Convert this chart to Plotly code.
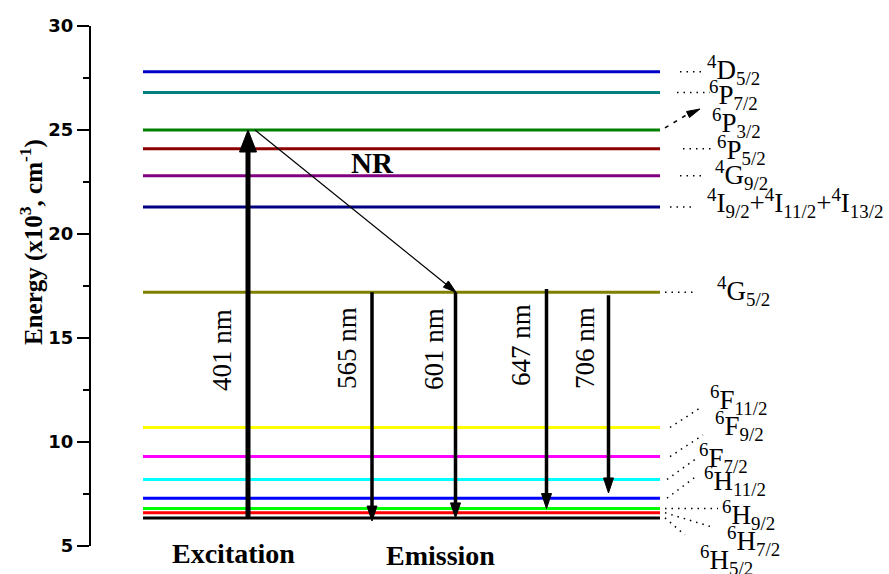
import plotly.graph_objects as go

# ---------------- data ----------------
level_labels = [
    "<sup>4</sup>D<sub>5/2</sub>",
    "<sup>6</sup>P<sub>7/2</sub>",
    "<sup>6</sup>P<sub>3/2</sub>",
    "<sup>6</sup>P<sub>5/2</sub>",
    "<sup>4</sup>G<sub>9/2</sub>",
    "<sup>4</sup>I<sub>9/2</sub>+<sup>4</sup>I<sub>11/2</sub>+<sup>4</sup>I<sub>13/2</sub>",
    "<sup>4</sup>G<sub>5/2</sub>",
    "<sup>6</sup>F<sub>11/2</sub>",
    "<sup>6</sup>F<sub>9/2</sub>",
    "<sup>6</sup>F<sub>7/2</sub>",
    "<sup>6</sup>H<sub>11/2</sub>",
    "<sup>6</sup>H<sub>9/2</sub>",
    "<sup>6</sup>H<sub>7/2</sub>",
    "<sup>6</sup>H<sub>5/2</sub>",
]
level_energy = [27.8, 26.8, 25.0, 24.1, 22.8, 21.3, 17.2, 10.7, 9.3, 8.2, 7.3, 6.8, 6.6, 6.35]

excitation_nm = 401
excitation_from = 6.35
excitation_to = 25.0

nr_from = 25.0
nr_to = 17.2

emission_nm = [565, 601, 647, 706]
emission_from = [17.2, 17.2, 17.35, 17.05]
emission_to = [6.2, 6.35, 6.8, 7.55]

y_ticks = [5, 10, 15, 20, 25, 30]
y_tick_text = ["5", "10", "15", "20", "25", "30"]

# ---------------- styles / layout positions ----------------
level_colors = ["#0000c8", "#008080", "#008000", "#8b0000", "#800080", "#000080",
                "#808000", "#ffff00", "#ff00ff", "#00ffff", "#0000ff", "#00ff00",
                "#ff0000", "#000000"]

W, H = 889, 574
ML, MT, MB = 91, 26, 28
PW = W - ML
PH = H - MT - MB
YMIN, YMAX = 5, 30
PXY = PH / (YMAX - YMIN)

def e2px(e):
    return MT + (YMAX - e) * PXY

def px2e(p):
    return YMAX - (p - MT) / PXY

def xp(p):  # horizontal layout position (x axis is in pixel-like units)
    return p - ML

def py_paper(p):
    return (H - MB - p) / PH

LINE_X0, LINE_X1 = xp(143), xp(660)
exc_x = xp(248)
em_x = [xp(372), xp(455.5), xp(546.5), xp(608.5)]
exc_lab = (xp(222), 350)
em_lab = [(xp(347), 348), (xp(434), 349), (xp(521), 345), (xp(585), 348)]
nr_start_x, nr_end_x = xp(255), xp(456)

label_pos = [(705, 70), (707, 95), (710, 123), (715, 150), (713, 175), (705, 203),
             (715, 291), (708, 400), (713, 426), (697, 458), (702, 481), (720, 515),
             (725, 541), (698, 560)]
# leader lines: (x start px, x end px, y end px or None for horizontal)
leaders = [(680, 702, None), (677, 710, None), None, (683, 713, None), (680, 702, None),
           (670, 693, None), (665, 697, None), (670, 700, 408), (670, 703, 435),
           (667, 697, 458), (667, 698, 475), (665, 718, None), (665, 712, 527),
           (665, 685, 535)]

fig = go.Figure()

for e, c in zip(level_energy, level_colors):
    fig.add_trace(go.Scatter(x=[LINE_X0, LINE_X1], y=[e, e], mode="lines",
                             line=dict(color=c, width=3), hoverinfo="skip",
                             showlegend=False))

shapes = []

def arrow(x0, e0, x1, e1, width, hl, hw):
    sx0, sy0 = x0, e2px(e0)
    sx1, sy1 = x1, e2px(e1)
    dx, dy = sx1 - sx0, sy1 - sy0
    L = (dx * dx + dy * dy) ** 0.5
    ux, uy = dx / L, dy / L
    bx, by = sx1 - ux * hl * 0.8, sy1 - uy * hl * 0.8
    fig.add_trace(go.Scatter(x=[sx0, bx], y=[e0, px2e(by)], mode="lines",
                             line=dict(color="black", width=width),
                             hoverinfo="skip", showlegend=False))
    cx, cy = sx1 - ux * hl, sy1 - uy * hl
    nx, ny = -uy, ux
    p1 = (cx + nx * hw / 2, cy + ny * hw / 2)
    p2 = (cx - nx * hw / 2, cy - ny * hw / 2)
    path = (f"M{sx1},{px2e(sy1)} L{p1[0]},{px2e(p1[1])} "
            f"L{p2[0]},{px2e(p2[1])} Z")
    shapes.append(dict(type="path", path=path, xref="x", yref="y",
                       fillcolor="black", line=dict(color="black", width=1)))

arrow(exc_x, excitation_from, exc_x, excitation_to, 5, 22, 17)
arrow(nr_start_x, nr_from, nr_end_x, nr_to, 1.2, 13, 8)
for x, e0, e1 in zip(em_x, emission_from, emission_to):
    arrow(x, e0, x, e1, 3.5, 15, 10)

annotations = []
TXT = "Liberation Serif"

annotations.append(dict(x=exc_lab[0], y=px2e(exc_lab[1]), xref="x", yref="y",
                        text=f"{excitation_nm} nm", textangle=-90, showarrow=False,
                        xanchor="center", yanchor="middle",
                        font=dict(family=TXT, size=27, color="black")))
for (lx, ly), nm in zip(em_lab, emission_nm):
    annotations.append(dict(x=lx, y=px2e(ly), xref="x", yref="y", text=f"{nm} nm",
                            textangle=-90, showarrow=False,
                            xanchor="center", yanchor="middle",
                            font=dict(family=TXT, size=27, color="black")))

annotations.append(dict(x=xp(372), y=px2e(163), xref="x", yref="y", text="<b>NR</b>",
                        showarrow=False, xanchor="center", yanchor="middle",
                        font=dict(family=TXT, size=29, color="black")))
annotations.append(dict(x=xp(233), y=py_paper(553), xref="x", yref="paper",
                        text="<b>Excitation</b>", showarrow=False,
                        xanchor="center", yanchor="middle",
                        font=dict(family=TXT, size=28, color="black")))
annotations.append(dict(x=xp(440), y=py_paper(555), xref="x", yref="paper",
                        text="<b>Emission</b>", showarrow=False,
                        xanchor="center", yanchor="middle",
                        font=dict(family=TXT, size=28, color="black")))
annotations.append(dict(x=(32 - ML) / PW, y=py_paper(242), xref="paper", yref="paper",
                        text="<b>Energy (x10<sup>3</sup>, cm<sup>-1</sup>)</b>",
                        textangle=-90, showarrow=False, xanchor="center",
                        yanchor="middle",
                        font=dict(family=TXT, size=25, color="black")))

for lab, (lx, ly) in zip(level_labels, label_pos):
    annotations.append(dict(x=xp(lx), y=py_paper(ly), xref="x", yref="paper",
                            text=lab, showarrow=False, xanchor="left", yanchor="middle",
                            font=dict(family=TXT, size=27, color="black")))

for ld, e in zip(leaders, level_energy):
    if ld is None:
        continue
    x0, x1, yend = ld
    e_end = e if yend is None else px2e(yend)
    shapes.append(dict(type="line", xref="x", yref="y", x0=xp(x0), x1=xp(x1),
                       y0=e, y1=e_end, line=dict(color="black", width=1.5, dash="1.5px,5px")))
e3 = level_energy[2]
shapes.append(dict(type="line", xref="x", yref="y", x0=xp(665), x1=xp(688),
                   y0=e3 + 0.1, y1=px2e(114), line=dict(color="black", width=1.5,
                                                         dash="4px,6px")))
tip = (xp(700), 109)
base = (xp(688), 114.5)
shapes.append(dict(type="path", xref="x", yref="y", fillcolor="black",
                   line=dict(color="black", width=1),
                   path=(f"M{tip[0]},{px2e(tip[1])} L{base[0]+1.5},{px2e(base[1]+3)} "
                         f"L{base[0]-1.5},{px2e(base[1]-3)} Z")))

fig.update_layout(
    width=W, height=H,
    margin=dict(l=ML, r=0, t=MT, b=MB),
    paper_bgcolor="white", plot_bgcolor="white",
    shapes=shapes, annotations=annotations,
    xaxis=dict(range=[0, PW], visible=False, fixedrange=True),
    yaxis=dict(range=[YMIN, YMAX], tickvals=y_ticks,
               ticktext=[f"<b>{t}</b>" for t in y_tick_text],
               ticks="outside", ticklen=12,
               tickwidth=2, tickcolor="black", showline=True, linewidth=2,
               linecolor="black", showgrid=False, zeroline=False,
               tickfont=dict(family="DejaVu Sans", size=18, color="black"),
               minor=dict(ticks="outside", ticklen=6, tickwidth=2, dtick=2.5,
                          tickcolor="black", showgrid=False)),
    showlegend=False,
)

fig.write_html("out.html")
